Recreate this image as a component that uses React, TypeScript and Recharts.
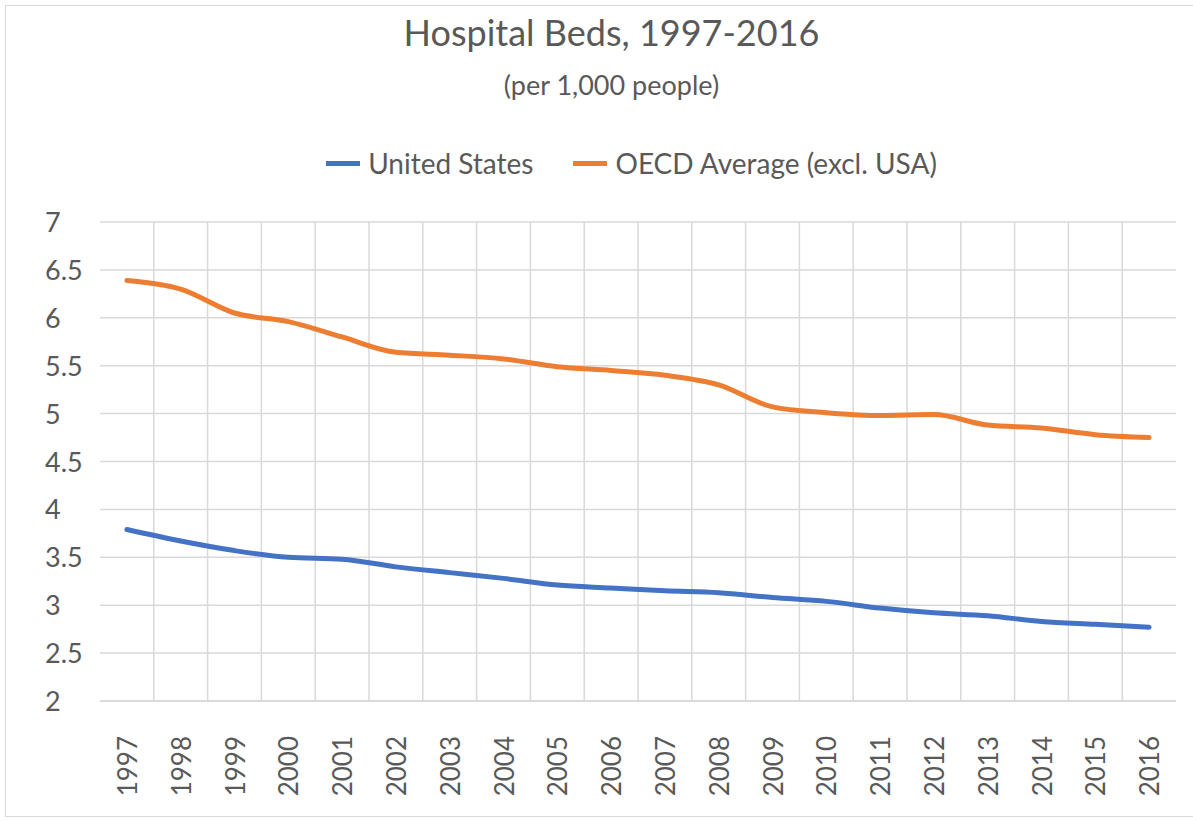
import React from "react";
import { LineChart, Line, XAxis, YAxis, CartesianGrid } from "recharts";

const years = [
  "1997", "1998", "1999", "2000", "2001", "2002", "2003", "2004", "2005", "2006",
  "2007", "2008", "2009", "2010", "2011", "2012", "2013", "2014", "2015", "2016",
];
const unitedStates = [
  3.79, 3.67, 3.57, 3.5, 3.48, 3.4, 3.34, 3.28, 3.21, 3.18,
  3.15, 3.13, 3.08, 3.04, 2.97, 2.92, 2.89, 2.83, 2.8, 2.77,
];
const oecdAverage = [
  6.39, 6.3, 6.05, 5.96, 5.8, 5.64, 5.61, 5.57, 5.49, 5.45,
  5.4, 5.3, 5.07, 5.01, 4.98, 4.99, 4.88, 4.85, 4.78, 4.75,
];
const yTicks = [2, 2.5, 3, 3.5, 4, 4.5, 5, 5.5, 6, 6.5, 7];

const series = [
  { key: "us", name: "United States", color: "#4472C4" },
  { key: "oecd", name: "OECD Average (excl. USA)", color: "#ED7D31" },
];

const data = years.map((year, i) => ({
  year,
  us: unitedStates[i],
  oecd: oecdAverage[i],
}));

const FONT = "Lato, 'Open Sans', sans-serif";
const TEXT = "#595959";

const YTick = ({ y, payload }: any) => (
  <text x={45} y={y} dy={10} textAnchor="start" fill={TEXT} fontSize={27} fontFamily={FONT}>
    {payload.value}
  </text>
);

const XTick = ({ x, y, payload }: any) => (
  <g transform={`translate(${x},${y + 27})`}>
    <text transform="rotate(-90)" textAnchor="end" dy={10} fill={TEXT} fontSize={26} fontFamily={FONT}>
      {payload.value}
    </text>
  </g>
);

export default function App() {
  return (
    <div
      style={{
        position: "absolute",
        left: 0,
        top: 0,
        width: 1193,
        height: 821,
        background: "#fff",
        fontFamily: FONT,
        overflow: "hidden",
      }}
    >
      <div
        style={{
          position: "absolute",
          left: 5,
          top: 5,
          width: 1200,
          height: 812,
          border: "1px solid #d9d9d9",
          boxSizing: "border-box",
        }}
      />
      <div
        style={{
          position: "absolute",
          top: 10,
          width: 1223,
          textAlign: "center",
          fontSize: 36,
          color: TEXT,
        }}
      >
        Hospital Beds, 1997-2016
      </div>
      <div
        style={{
          position: "absolute",
          top: 68,
          width: 1223,
          textAlign: "center",
          fontSize: 27,
          color: TEXT,
        }}
      >
        (per 1,000 people)
      </div>
      <div
        style={{
          position: "absolute",
          top: 146,
          width: 1263,
          display: "flex",
          justifyContent: "center",
          gap: 40,
          fontSize: 28,
          color: TEXT,
        }}
      >
        {series.map((s) => (
          <div key={s.key} style={{ display: "flex", alignItems: "center" }}>
            <span
              style={{
                display: "inline-block",
                width: 34,
                height: 5,
                background: s.color,
                marginRight: 8,
              }}
            />
            {s.name}
          </div>
        ))}
      </div>
      <div style={{ position: "absolute", left: 0, top: 0 }}>
        <LineChart
          width={1193}
          height={821}
          data={data}
          margin={{ top: 222, right: 17, bottom: 40, left: 40 }}
        >
          <CartesianGrid
            stroke="#d9d9d9"
            strokeWidth={1.5}
            verticalCoordinatesGenerator={({ offset }: any) =>
              years.slice(1).map((_, i) => offset.left + (offset.width * (i + 1)) / years.length)
            }
          />
          <XAxis
            dataKey="year"
            scale="band"
            height={80}
            axisLine={{ stroke: "#d9d9d9", strokeWidth: 1.5 }}
            tickLine={false}
            interval={0}
            tick={<XTick />}
          />
          <YAxis
            domain={[2, 7]}
            ticks={yTicks}
            width={60}
            axisLine={false}
            tickLine={false}
            tick={<YTick />}
            interval={0}
          />
          {series.map((s) => (
            <Line
              key={s.key}
              dataKey={s.key}
              name={s.name}
              type="monotone"
              stroke={s.color}
              strokeWidth={5}
              strokeLinecap="round"
              dot={false}
              isAnimationActive={false}
            />
          ))}
        </LineChart>
      </div>
    </div>
  );
}
